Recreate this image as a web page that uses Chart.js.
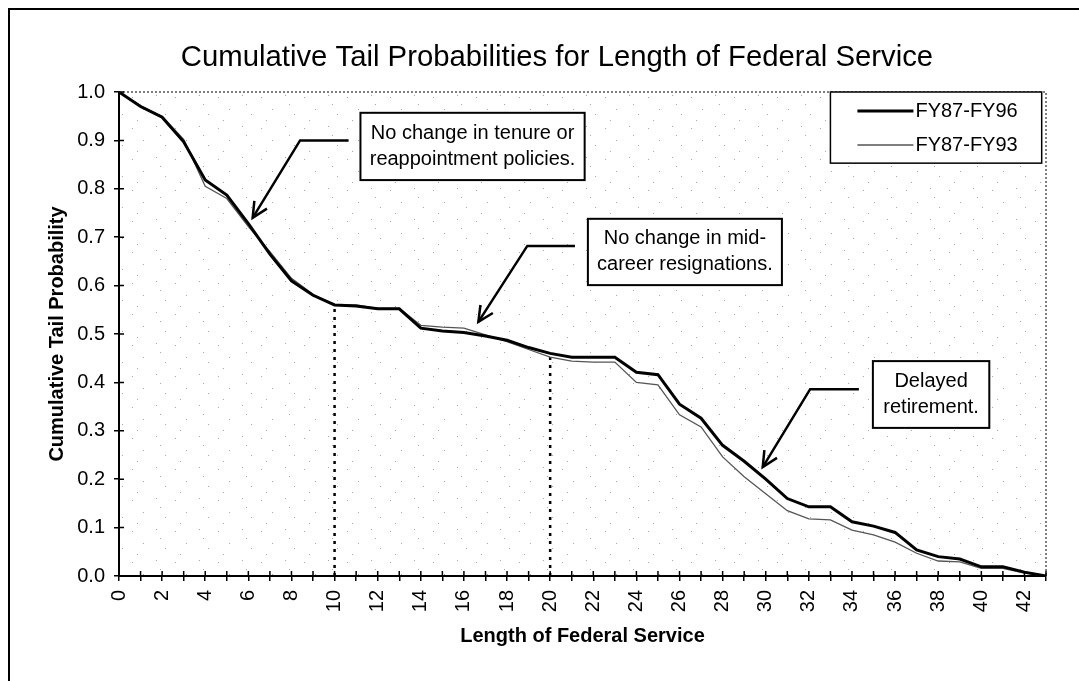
<!DOCTYPE html>
<html>
<head>
<meta charset="utf-8">
<script src="https://cdn.jsdelivr.net/npm/chart.js@4.4.1/dist/chart.umd.min.js"></script>
<style>
  html, body { margin: 0; padding: 0; background: #fff; }
  #wrap { width: 1079px; height: 681px; }
</style>
</head>
<body>
<div id="wrap"><canvas id="myChart" width="1079" height="681"></canvas></div>
<script>
Chart.defaults.color = '#000';
Chart.defaults.font.family = "'Liberation Sans', Arial, sans-serif";
Chart.defaults.font.size = 20;

// years of service
const years = [0, 1, 2, 3, 4, 5, 6, 7, 8, 9, 10, 11, 12, 13, 14, 15, 16, 17, 18, 19, 20, 21,
               22, 23, 24, 25, 26, 27, 28, 29, 30, 31, 32, 33, 34, 35, 36, 37, 38, 39, 40, 41, 42, 43];
// cumulative tail probability
const fy96 = [1.000, 0.970, 0.948, 0.897, 0.818, 0.787, 0.728, 0.665, 0.610, 0.580, 0.560, 0.558,
              0.552, 0.552, 0.512, 0.506, 0.503, 0.496, 0.487, 0.472, 0.460, 0.452, 0.452, 0.452,
              0.421, 0.416, 0.355, 0.326, 0.270, 0.237, 0.200, 0.160, 0.143, 0.143, 0.112, 0.103,
              0.090, 0.054, 0.040, 0.035, 0.019, 0.019, 0.008, 0.000];
const fy93 = [1.000, 0.972, 0.950, 0.902, 0.805, 0.780, 0.722, 0.670, 0.615, 0.582, 0.560, 0.560,
              0.553, 0.553, 0.518, 0.514, 0.512, 0.498, 0.484, 0.468, 0.452, 0.444, 0.442, 0.442,
              0.400, 0.395, 0.333, 0.308, 0.246, 0.205, 0.170, 0.135, 0.118, 0.116, 0.095, 0.085,
              0.070, 0.047, 0.031, 0.029, 0.016, 0.016, 0.006, 0.000];
const seriesNames = ['FY87-FY96', 'FY87-FY93'];
const markYears = [10, 20];

const titleText = 'Cumulative Tail Probabilities for Length of Federal Service';

// callouts, placed in data units: box [x1, y1, x2, y2], leader from box to arrow tip
const notes = [
    {text: ['No change in tenure or', 'reappointment policies.'],
     box: [11.2, 0.957, 21.6, 0.818], leader: [[10.65, 0.90], [8.4, 0.90], [6.2, 0.74]]},
    {text: ['No change in mid-', 'career resignations.'],
     box: [21.75, 0.738, 30.75, 0.601], leader: [[21.15, 0.682], [18.94, 0.682], [16.67, 0.525]]},
    {text: ['Delayed', 'retirement.'],
     box: [34.97, 0.444, 40.37, 0.306], leader: [[34.32, 0.386], [32.06, 0.386], [29.86, 0.225]]},
];
const legendBox = [33.0, 1.0, 42.8, 0.853];

function toXY(arr) {
    return years.map((x, i) => ({x: x, y: arr[i]}));
}

// faint halftone stipple like the scanned plot background
function makeStipple() {
    const t = document.createElement('canvas');
    t.width = 43; t.height = 31;
    const g = t.getContext('2d');
    g.fillStyle = '#a8a8a8';
    [[3, 4], [27, 2], [14, 16], [36, 21], [8, 27], [31, 11]].forEach(p => g.fillRect(p[0], p[1], 1, 1));
    return t;
}

const overlay = {
    id: 'overlay',
    beforeDraw(chart) {
        const c = chart.ctx;
        const a = chart.chartArea;
        c.save();
        c.fillStyle = '#fff';
        c.fillRect(0, 0, chart.width, chart.height);
        c.fillStyle = c.createPattern(makeStipple(), 'repeat');
        c.fillRect(a.left, a.top, a.right - a.left, a.bottom - a.top);
        c.restore();
    },
    afterDraw(chart) {
        const c = chart.ctx;
        const xs = chart.scales.x, ys = chart.scales.y;
        const a = chart.chartArea;
        c.save();

        // outer frame (left and top show in the picture)
        c.strokeStyle = '#000';
        c.lineWidth = 2;
        c.beginPath();
        c.moveTo(9, chart.height);
        c.lineTo(9, 9);
        c.lineTo(chart.width, 9);
        c.stroke();

        // title
        c.fillStyle = '#000';
        c.font = "29.3px 'Liberation Sans', Arial, sans-serif";
        c.textAlign = 'center';
        c.textBaseline = 'middle';
        c.fillText(titleText, 557, 58);

        // dotted top and right edge of plot area
        c.strokeStyle = '#555';
        c.lineWidth = 1.5;
        c.setLineDash([2, 2]);
        c.beginPath();
        c.moveTo(a.left, a.top);
        c.lineTo(a.right, a.top);
        c.lineTo(a.right, a.bottom);
        c.stroke();
        c.setLineDash([]);

        // tick marks crossing into the plot
        c.strokeStyle = '#000';
        c.lineWidth = 1.5;
        c.beginPath();
        xs.ticks.forEach(t => {
            const px = xs.getPixelForValue(t.value);
            c.moveTo(px, a.bottom);
            c.lineTo(px, a.bottom - 5);
        });
        ys.ticks.forEach(t => {
            const py = ys.getPixelForValue(t.value);
            c.moveTo(a.left, py);
            c.lineTo(a.left + 5, py);
        });
        c.stroke();

        // callouts
        c.font = "20px 'Liberation Sans', Arial, sans-serif";
        notes.forEach(n => {
            const x1 = xs.getPixelForValue(n.box[0]), y1 = ys.getPixelForValue(n.box[1]);
            const x2 = xs.getPixelForValue(n.box[2]), y2 = ys.getPixelForValue(n.box[3]);
            c.fillStyle = '#fff';
            c.fillRect(x1, y1, x2 - x1, y2 - y1);
            c.strokeStyle = '#000';
            c.lineWidth = 2;
            c.strokeRect(x1, y1, x2 - x1, y2 - y1);
            c.fillStyle = '#000';
            const cy = (y1 + y2) / 2, cx = (x1 + x2) / 2;
            c.fillText(n.text[0], cx, cy - 13);
            c.fillText(n.text[1], cx, cy + 13);

            const pts = n.leader.map(p => [xs.getPixelForValue(p[0]), ys.getPixelForValue(p[1])]);
            c.lineWidth = 2.5;
            c.beginPath();
            c.moveTo(pts[0][0], pts[0][1]);
            for (let i = 1; i < pts.length; i++) c.lineTo(pts[i][0], pts[i][1]);
            c.stroke();
            // arrow head
            const [px, py] = pts[pts.length - 1], [qx, qy] = pts[pts.length - 2];
            const ang = Math.atan2(py - qy, px - qx);
            c.beginPath();
            c.moveTo(px - 17 * Math.cos(ang - 0.45), py - 17 * Math.sin(ang - 0.45));
            c.lineTo(px, py);
            c.lineTo(px - 17 * Math.cos(ang + 0.45), py - 17 * Math.sin(ang + 0.45));
            c.stroke();
        });

        // legend
        const lx1 = xs.getPixelForValue(legendBox[0]), ly1 = ys.getPixelForValue(legendBox[1]);
        const lx2 = xs.getPixelForValue(legendBox[2]), ly2 = ys.getPixelForValue(legendBox[3]);
        c.fillStyle = '#fff';
        c.fillRect(lx1, ly1, lx2 - lx1, ly2 - ly1);
        c.strokeStyle = '#000';
        c.lineWidth = 1.5;
        c.strokeRect(lx1, ly1, lx2 - lx1, ly2 - ly1);
        c.textAlign = 'left';
        chart.data.datasets.slice(0, 2).forEach((ds, i) => {
            const ry = ly1 + 19 + i * 34;
            c.strokeStyle = ds.borderColor;
            c.lineWidth = ds.borderWidth;
            c.beginPath();
            c.moveTo(lx1 + 27, ry);
            c.lineTo(lx1 + 83, ry);
            c.stroke();
            c.fillStyle = '#000';
            c.fillText(ds.label, lx1 + 85, ry);
        });
        c.restore();
    }
};

const ctx = document.getElementById('myChart');
const config = {
    type: 'line',
    data: {
        datasets: [
            {
                label: seriesNames[0],
                data: toXY(fy96),
                borderColor: '#000',
                borderWidth: 3,
                pointRadius: 0,
                tension: 0,
            },
            {
                label: seriesNames[1],
                data: toXY(fy93),
                borderColor: '#555',
                borderWidth: 1.3,
                pointRadius: 0,
                tension: 0,
            },
            ...markYears.map(yr => ({
                label: 'mark' + yr,
                data: [{x: yr, y: 0}, {x: yr, y: fy96[years.indexOf(yr)]}],
                borderColor: '#000',
                borderWidth: 2.5,
                borderDash: [3, 5],
                pointRadius: 0,
            })),
        ]
    },
    options: {
        responsive: false,
        animation: false,
        layout: {padding: {top: 92, right: 29, left: 0, bottom: 0}},
        plugins: {
            legend: {display: false},
            title: {display: false},
            tooltip: {enabled: false},
        },
        scales: {
            x: {
                type: 'linear',
                min: 0,
                max: 43,
                afterFit: s => { s.height = 105; },
                border: {display: true, color: '#000', width: 2},
                grid: {drawOnChartArea: false, drawTicks: true, tickLength: 5, color: '#000', lineWidth: 1.5},
                ticks: {
                    stepSize: 1,
                    autoSkip: false,
                    minRotation: 90,
                    maxRotation: 90,
                    padding: 9,
                    color: '#000',
                    callback: v => (v % 2 === 0 ? String(v) : ''),
                },
                title: {
                    display: true,
                    text: 'Length of Federal Service',
                    font: {size: 20, weight: 'bold'},
                    padding: {top: 0, bottom: 33},
                },
            },
            y: {
                min: 0,
                max: 1,
                afterFit: s => { s.width = 119; },
                border: {display: true, color: '#000', width: 2},
                grid: {drawOnChartArea: false, drawTicks: true, tickLength: 5, color: '#000', lineWidth: 1.5},
                ticks: {
                    stepSize: 0.1,
                    padding: 9,
                    color: '#000',
                    callback: v => v.toFixed(1),
                },
                title: {
                    display: true,
                    text: 'Cumulative Tail Probability',
                    font: {size: 20, weight: 'bold'},
                    padding: {top: 45, bottom: 0},
                },
            },
        }
    },
    plugins: [overlay],
};
const chart = new Chart(ctx, config);
</script>
</body>
</html>
